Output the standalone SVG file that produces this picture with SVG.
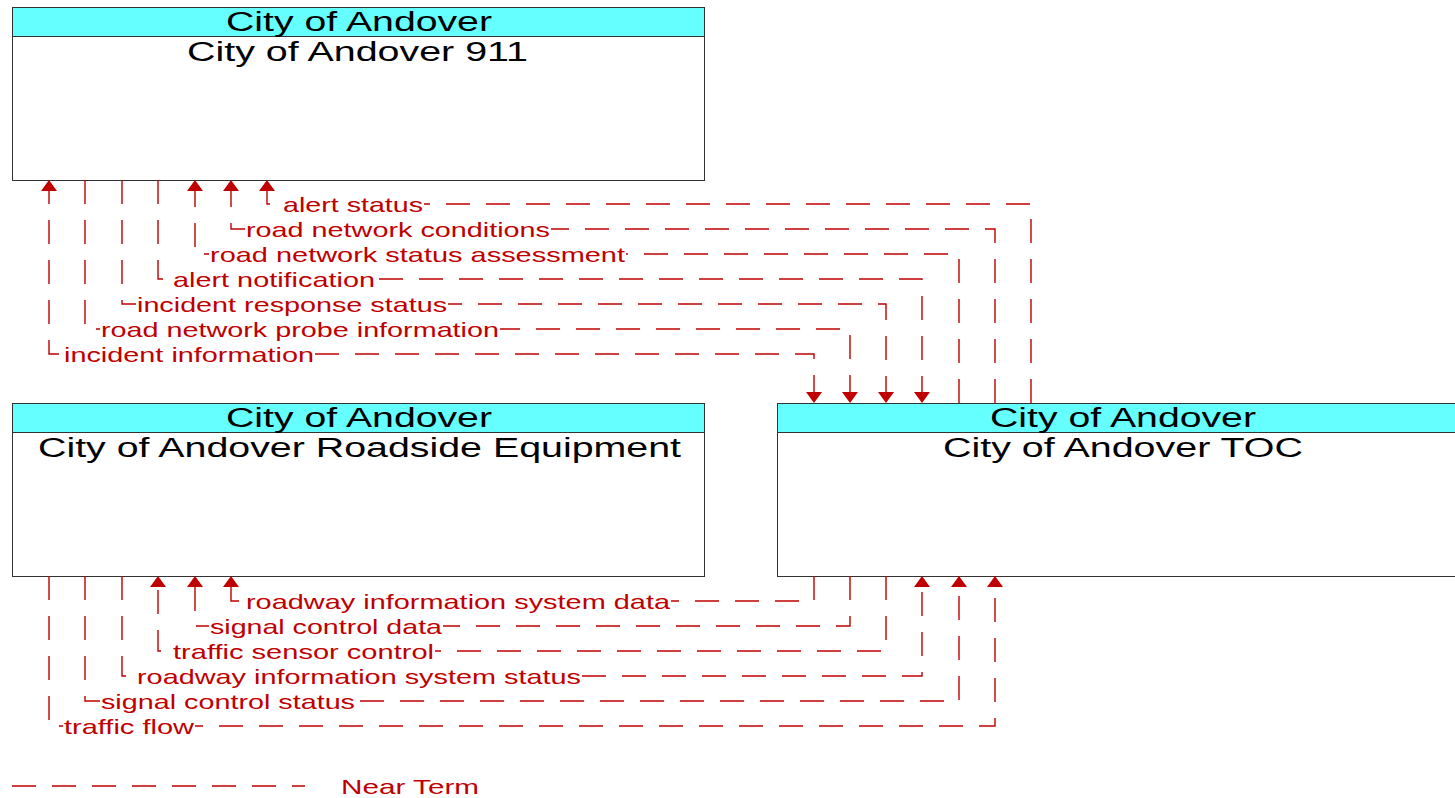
<svg xmlns="http://www.w3.org/2000/svg" width="1455" height="798" viewBox="0 0 1455 798">
<style>
.box{fill:#ffffff;stroke:#333333;stroke-width:1}
.hdr{fill:#66ffff;stroke:#333333;stroke-width:1}
.ttl{font-family:"Liberation Sans",Arial,sans-serif;font-size:27px;fill:#000000;text-anchor:start}
.flow{fill:none;stroke:#c00000;stroke-width:1.4;stroke-dasharray:24 16}
.lbl{font-family:"Liberation Sans",Arial,sans-serif;font-size:21px;fill:#c00000}
.bg{fill:#ffffff}
</style>
<defs>
<marker id="arr" markerUnits="userSpaceOnUse" viewBox="0 0 11 16" refX="11" refY="8" markerWidth="11" markerHeight="16" orient="auto-start-reverse">
<path d="M0,0 L11,8 L0,16 z" fill="#c00000"/>
</marker>
</defs>
<rect width="1455" height="798" fill="#ffffff"/>

<g id="node-911">
<rect class="box" x="12.5" y="7.5" width="692" height="173"/>
<rect class="hdr" x="12.5" y="7.5" width="692" height="29"/>
<text class="ttl" x="226" y="31" textLength="266" lengthAdjust="spacingAndGlyphs">City of Andover</text>
<text class="ttl" x="187" y="61" textLength="341" lengthAdjust="spacingAndGlyphs">City of Andover 911</text>
</g>

<g id="node-rse">
<rect class="box" x="12.5" y="403.5" width="692" height="173"/>
<rect class="hdr" x="12.5" y="403.5" width="692" height="29"/>
<text class="ttl" x="226" y="427" textLength="266" lengthAdjust="spacingAndGlyphs">City of Andover</text>
<text class="ttl" x="38" y="457" textLength="643" lengthAdjust="spacingAndGlyphs">City of Andover Roadside Equipment</text>
</g>

<g id="node-toc">
<rect class="box" x="777.5" y="403.5" width="692" height="173"/>
<rect class="hdr" x="777.5" y="403.5" width="692" height="29"/>
<text class="ttl" x="990" y="427" textLength="266" lengthAdjust="spacingAndGlyphs">City of Andover</text>
<text class="ttl" x="943" y="457" textLength="360" lengthAdjust="spacingAndGlyphs">City of Andover TOC</text>
</g>

<g id="connectors">
<path class="flow" d="M1031,403 V204 H267 V180" marker-end="url(#arr)"/>
<path class="flow" d="M995,403 V229 H231 V180" marker-end="url(#arr)"/>
<path class="flow" d="M959,403 V254 H195 V180" marker-end="url(#arr)"/>
<path class="flow" d="M158,180 V279 H922 V403" marker-end="url(#arr)"/>
<path class="flow" d="M122,180 V304 H886 V403" marker-end="url(#arr)"/>
<path class="flow" d="M85,180 V329 H850 V403" marker-end="url(#arr)"/>
<path class="flow" d="M49,180 V354 H814 V403" marker-start="url(#arr)" marker-end="url(#arr)"/>

<path class="flow" d="M814,576 V601 H231 V576" marker-end="url(#arr)"/>
<path class="flow" d="M850,576 V626 H195 V576" marker-end="url(#arr)"/>
<path class="flow" d="M886,576 V651 H158 V576" marker-end="url(#arr)"/>
<path class="flow" d="M122,576 V676 H922 V576" marker-end="url(#arr)"/>
<path class="flow" d="M85,576 V701 H959 V576" marker-end="url(#arr)"/>
<path class="flow" d="M49,576 V726 H995 V576" marker-end="url(#arr)"/>

<rect class="bg" x="282" y="194" width="142" height="20"/>
<rect class="bg" x="245" y="219" width="306" height="20"/>
<rect class="bg" x="209" y="244" width="417" height="20"/>
<rect class="bg" x="172" y="269" width="204" height="20"/>
<rect class="bg" x="136" y="294" width="312" height="20"/>
<rect class="bg" x="100" y="319" width="400" height="20"/>
<rect class="bg" x="63" y="344" width="252" height="20"/>
<rect class="bg" x="245" y="591" width="426" height="20"/>
<rect class="bg" x="209" y="616" width="234" height="20"/>
<rect class="bg" x="172" y="641" width="263" height="20"/>
<rect class="bg" x="136" y="666" width="446" height="20"/>
<rect class="bg" x="100" y="691" width="256" height="20"/>
<rect class="bg" x="63" y="716" width="132" height="20"/>

<text class="lbl" x="283" y="211.5" textLength="140" lengthAdjust="spacingAndGlyphs">alert status</text>
<text class="lbl" x="246" y="236.5" textLength="304" lengthAdjust="spacingAndGlyphs">road network conditions</text>
<text class="lbl" x="210" y="261.5" textLength="415" lengthAdjust="spacingAndGlyphs">road network status assessment</text>
<text class="lbl" x="173" y="286.5" textLength="202" lengthAdjust="spacingAndGlyphs">alert notification</text>
<text class="lbl" x="137" y="311.5" textLength="310" lengthAdjust="spacingAndGlyphs">incident response status</text>
<text class="lbl" x="101" y="336.5" textLength="398" lengthAdjust="spacingAndGlyphs">road network probe information</text>
<text class="lbl" x="64" y="361.5" textLength="250" lengthAdjust="spacingAndGlyphs">incident information</text>
<text class="lbl" x="246" y="608.5" textLength="424" lengthAdjust="spacingAndGlyphs">roadway information system data</text>
<text class="lbl" x="210" y="633.5" textLength="232" lengthAdjust="spacingAndGlyphs">signal control data</text>
<text class="lbl" x="173" y="658.5" textLength="261" lengthAdjust="spacingAndGlyphs">traffic sensor control</text>
<text class="lbl" x="137" y="683.5" textLength="444" lengthAdjust="spacingAndGlyphs">roadway information system status</text>
<text class="lbl" x="101" y="708.5" textLength="254" lengthAdjust="spacingAndGlyphs">signal control status</text>
<text class="lbl" x="64" y="733.5" textLength="130" lengthAdjust="spacingAndGlyphs">traffic flow</text>
</g>

<g id="legend">
<path class="flow" d="M12,786 H305"/>
<text class="lbl" x="341" y="793.5" textLength="138" lengthAdjust="spacingAndGlyphs">Near Term</text>
</g>
</svg>
